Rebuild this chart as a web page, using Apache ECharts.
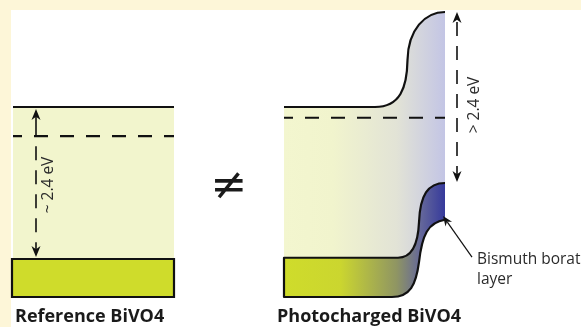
<!DOCTYPE html>
<html><head><meta charset="utf-8">
<script src="https://cdn.jsdelivr.net/npm/echarts@6/dist/echarts.min.js"></script>
<style>html,body{margin:0;padding:0;background:#fdf6d8}#c{width:581px;height:327px}</style>
</head><body><div id="c"></div>
<script>
// ---- data: energies in eV (relative to reference valence band top), positions in arbitrary units ----
const panelTitles = ['Reference BiVO4', 'Photocharged BiVO4'];
const gapLabels = ['~ 2.4 eV', '> 2.4 eV'];
const layerLabel = ['Bismuth borate', 'layer'];
// reference BiVO4
const refX = [1.3, 17.4];
const refCB = 2.4;
const refEF = 1.94;
const refVBTop = 0;
const refVBBottom = -0.6;
const refArrowX = 3.6;
// photocharged BiVO4 (start, flat end, then two cubic segments: cp, cp, end)
const pcX = [28.4, 44.5];
const pcEF = 2.23;
const pcCB = [[28.4,2.4],[37.5,2.4],[40.0,2.4],[40.7,2.70],[40.75,3.14],[40.8,3.62],[42.5,3.90],[44.5,3.90]];
const pcVBTop = [[28.4,0.02],[39.8,0.02],[41.2,0.02],[41.8,0.22],[41.9,0.58],[42.0,1.01],[42.8,1.2],[44.5,1.2]];
const pcVBBottom = [[28.4,-0.6],[39.2,-0.6],[41.0,-0.6],[41.6,-0.41],[41.9,-0.05],[42.2,0.38],[42.8,0.58],[44.5,0.62]];
const pcArrowX = 45.7;
const layerArrow = [[47.2,0.03],[44.3,0.68]];

const chart = echarts.init(document.getElementById('c'), null, {renderer:'canvas'});

function mk(draw, z){
  return {type:'custom', coordinateSystem:'cartesian2d', data:[[0,0]], clip:false, silent:true, z:z||2,
    renderItem:function(params, api){ return draw(api); }};
}
function cs(api, p){ const q = api.coord(p); return q[0].toFixed(2)+' '+q[1].toFixed(2); }
function fwd(api, pts, start){
  return (start||'M')+cs(api,pts[0])+' L'+cs(api,pts[1])+' C'+cs(api,pts[2])+' '+cs(api,pts[3])+' '+cs(api,pts[4])+
    ' C'+cs(api,pts[5])+' '+cs(api,pts[6])+' '+cs(api,pts[7]);
}
function rev(api, pts, start){
  return ' '+(start||'L')+cs(api,pts[7])+' C'+cs(api,pts[6])+' '+cs(api,pts[5])+' '+cs(api,pts[4])+
    ' C'+cs(api,pts[3])+' '+cs(api,pts[2])+' '+cs(api,pts[1])+' L'+cs(api,pts[0]);
}
function head(tip, from, len, hw){
  const dx = tip[0]-from[0], dy = tip[1]-from[1];
  const d = Math.sqrt(dx*dx+dy*dy); const ux = dx/d, uy = dy/d;
  const bx = tip[0]-ux*len, by = tip[1]-uy*len;
  const nx = tip[0]-ux*len*0.7, ny = tip[1]-uy*len*0.7;
  return {type:'polygon', shape:{points:[tip,[bx-uy*hw, by+ux*hw],[nx,ny],[bx+uy*hw, by-ux*hw]]}, style:{fill:'#111'}};
}
function hline(api, x0, x1, e, dash){
  const a = api.coord([x0,e]), b = api.coord([x1,e]);
  return {type:'line', shape:{x1:a[0],y1:a[1],x2:b[0],y2:b[1]},
    style:{stroke:'#111', lineWidth:2.2, lineDash:dash||null, lineDashOffset:dash?5:0}};
}

const series = [
  // reference gap fill
  mk(function(api){
    const a = api.coord([refX[0], refCB]), b = api.coord([refX[1], refVBTop]);
    return {type:'rect', shape:{x:a[0], y:a[1], width:b[0]-a[0], height:b[1]-a[1]}, style:{fill:'#f2f5cd'}};
  }),
  // reference valence band
  mk(function(api){
    const a = api.coord([refX[0]-0.1, refVBTop]), b = api.coord([refX[1], refVBBottom]);
    return {type:'rect', shape:{x:a[0], y:a[1], width:b[0]-a[0], height:b[1]-a[1]}, style:{fill:'#cfdc2b', stroke:'#111', lineWidth:2.2}};
  }),
  // reference CB and Fermi level
  mk(function(api){
    return {type:'group', children:[hline(api, refX[0], refX[1], refCB), hline(api, refX[0], refX[1], refEF, [14,12])]};
  }),
  // reference gap arrow
  mk(function(api){
    const t = api.coord([refArrowX, refCB]); t[1] += 2;
    const m = api.coord([refArrowX, refEF]);
    const b = api.coord([refArrowX, refVBTop]); b[1] -= 2;
    return {type:'group', children:[
      {type:'line', shape:{x1:t[0],y1:t[1]+6,x2:m[0],y2:m[1]}, style:{stroke:'#111', lineWidth:1.6}},
      {type:'line', shape:{x1:m[0],y1:m[1],x2:b[0],y2:b[1]-6}, style:{stroke:'#111', lineWidth:1.6, lineDash:[14,10], lineDashOffset:14}},
      head(t, b, 11, 4.5), head(b, t, 11, 4.5)
    ]};
  }, 4),
  // photocharged gap fill (gradient)
  mk(function(api){
    const d = fwd(api, pcCB) + rev(api, pcVBTop) + ' Z';
    return {type:'path', shape:{pathData:d}, style:{fill:new echarts.graphic.LinearGradient(0,0,1,0,[
      {offset:0, color:'#f3f6cf'},{offset:0.3, color:'#f1f4cd'},{offset:0.7, color:'#e2e3d6'},{offset:1, color:'#c3c5e5'}])}};
  }),
  // photocharged valence band (gradient)
  mk(function(api){
    const d = fwd(api, pcVBTop) + rev(api, pcVBBottom) + ' Z';
    return {type:'path', shape:{pathData:d}, style:{fill:new echarts.graphic.LinearGradient(0,0,1,0,[
      {offset:0, color:'#cfdc2b'},{offset:0.35, color:'#cbd62f'},{offset:0.7, color:'#8f9563'},{offset:0.85, color:'#64679a'},{offset:1, color:'#363a9c'}])}};
  }),
  // photocharged valence band outline (no right edge)
  mk(function(api){
    const d = rev(api, pcVBTop, 'M') + ' L' + cs(api, pcVBBottom[0]) + ' L' + cs(api, pcVBBottom[1]) +
      ' C'+cs(api,pcVBBottom[2])+' '+cs(api,pcVBBottom[3])+' '+cs(api,pcVBBottom[4])+
      ' C'+cs(api,pcVBBottom[5])+' '+cs(api,pcVBBottom[6])+' '+cs(api,pcVBBottom[7]);
    return {type:'path', shape:{pathData:d}, style:{fill:null, stroke:'#111', lineWidth:2.2, lineJoin:'round'}};
  }, 3),
  // photocharged CB curve + Fermi level
  mk(function(api){
    return {type:'group', children:[
      {type:'path', shape:{pathData:fwd(api, pcCB)}, style:{fill:null, stroke:'#111', lineWidth:2.2}},
      hline(api, pcX[0], pcX[1], pcEF, [14,12])
    ]};
  }, 3),
  // photocharged gap arrow
  mk(function(api){
    const t = api.coord([pcArrowX, pcCB[7][1]]);
    const b = api.coord([pcArrowX, pcVBTop[7][1]]); b[1] -= 1;
    return {type:'group', children:[
      {type:'line', shape:{x1:t[0],y1:t[1]+6,x2:b[0],y2:b[1]-6}, style:{stroke:'#111', lineWidth:1.6, lineDash:[14,10], lineDashOffset:-4}},
      head(t, b, 11, 4.5), head(b, t, 11, 4.5)
    ]};
  }, 4),
  // bismuth borate layer pointer
  mk(function(api){
    const s = api.coord(layerArrow[0]), t = api.coord(layerArrow[1]);
    return {type:'group', children:[
      {type:'line', shape:{x1:s[0],y1:s[1],x2:t[0]+(s[0]-t[0])*0.15,y2:t[1]+(s[1]-t[1])*0.15}, style:{stroke:'#111', lineWidth:1.2}},
      head(t, s, 10, 4)
    ]};
  }, 4)
];

const txt = '#2b2b2b';
const option = {
  animation:false,
  backgroundColor:'#fdf6d8',
  grid:{left:0, right:0, top:5.67, bottom:4.67},
  xAxis:{type:'value', min:0, max:58.1, show:false},
  yAxis:{type:'value', min:-1, max:4, show:false},
  graphic:[
    {type:'rect', z:-10, shape:{x:11, y:10, width:570, height:317}, style:{fill:'#ffffff'}},
    {type:'text', z:10, x:49, y:185, rotation:Math.PI/2, style:{text:gapLabels[0], font:'15.5px "Open Sans"', fill:txt, align:'center', verticalAlign:'middle'}},
    {type:'text', z:10, x:475, y:105, rotation:Math.PI/2, style:{text:gapLabels[1], font:'15.5px "Open Sans"', fill:txt, align:'center', verticalAlign:'middle'}},
    {type:'text', z:10, x:229, y:188, style:{text:'\u2260', font:'44px "DejaVu Sans"', fill:'#1a1a1a', align:'center', verticalAlign:'middle'}},
    {type:'text', z:10, x:477, y:260, style:{text:layerLabel[0], font:'15.5px "Open Sans"', fill:txt, align:'left', verticalAlign:'middle'}},
    {type:'text', z:10, x:477, y:280, style:{text:layerLabel[1], font:'15.5px "Open Sans"', fill:txt, align:'left', verticalAlign:'middle'}},
    {type:'text', z:10, x:15, y:317, style:{text:panelTitles[0], font:'bold 18px "Open Sans"', fill:'#1a1a1a', align:'left', verticalAlign:'middle'}},
    {type:'text', z:10, x:277, y:317, style:{text:panelTitles[1], font:'bold 18px "Open Sans"', fill:'#1a1a1a', align:'left', verticalAlign:'middle'}}
  ],
  series:series
};
chart.setOption(option);
</script></body></html>
